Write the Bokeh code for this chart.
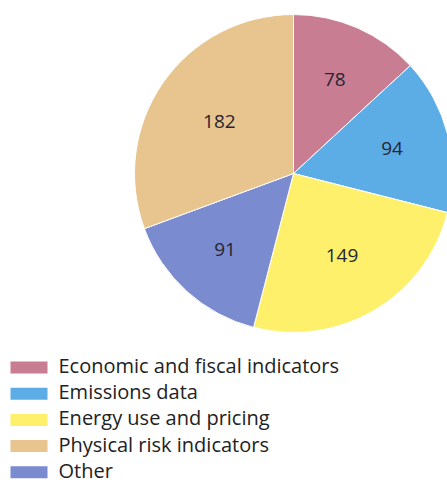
import math
from bokeh.plotting import figure
from bokeh.models import Range1d, ColumnDataSource
from bokeh.core.properties import value
from bokeh.embed import file_html
from bokeh.resources import INLINE

# Data (legend order)
categories = ["Economic and fiscal indicators", "Emissions data", "Energy use and pricing",
              "Physical risk indicators", "Other"]
counts = [78, 94, 149, 182, 91]
colors = ["#C97D93", "#5CADE5", "#FFF06C", "#E8C48F", "#7B8BCF"]
# Drawing order of slices, clockwise from 12 o'clock
pie_order = ["Economic and fiscal indicators", "Emissions data", "Energy use and pricing",
             "Other", "Physical risk indicators"]

W, H = 447, 483
p = figure(width=W, height=H, output_backend="svg", toolbar_location=None,
           x_range=Range1d(0, W), y_range=Range1d(0, H), min_border=0)
p.axis.visible = False
p.grid.visible = False
p.outline_line_color = None
p.background_fill_color = "white"
p.border_fill_color = "white"

cx, cy, R = 293, H - 173, 159
total = sum(counts)
starts, ends, cols, lx, ly, labs = [], [], [], [], [], []
cum = 0.0
for name in pie_order:
    i = categories.index(name)
    v = counts[i]
    a0 = cum / total * 2 * math.pi
    a1 = (cum + v) / total * 2 * math.pi
    cum += v
    starts.append(math.pi / 2 - a1)
    ends.append(math.pi / 2 - a0)
    cols.append(colors[i])
    th = a1 - a0
    rc = 4 * R * math.sin(th / 2) / (3 * th)
    mid = math.pi / 2 - (a0 + a1) / 2
    lx.append(cx + rc * math.cos(mid))
    ly.append(cy + rc * math.sin(mid))
    labs.append(str(v))

src = ColumnDataSource(dict(start=starts, end=ends, color=cols))
p.wedge(x=cx, y=cy, radius=R, start_angle="start", end_angle="end", fill_color="color",
        line_color="white", line_width=1, source=src)
p.text(x=lx, y=ly, text=labs, text_align="center", text_baseline="middle",
       text_font=value("Open Sans"), text_font_size="19px", text_color="#262633")

# Legend (manual)
ly0, dy = H - 367, 26.2
sy = [ly0 - k * dy for k in range(len(categories))]
p.rect(x=[10 + 18.5] * len(categories), y=sy, width=37, height=12, fill_color=colors, line_color=None)
p.text(x=[58] * len(categories), y=[s + 2 for s in sy], text=categories, text_align="left",
       text_baseline="middle", text_font=value("Open Sans"), text_font_size="20px",
       text_color="#222222")

open("out.html", "w").write(file_html(p, INLINE))
